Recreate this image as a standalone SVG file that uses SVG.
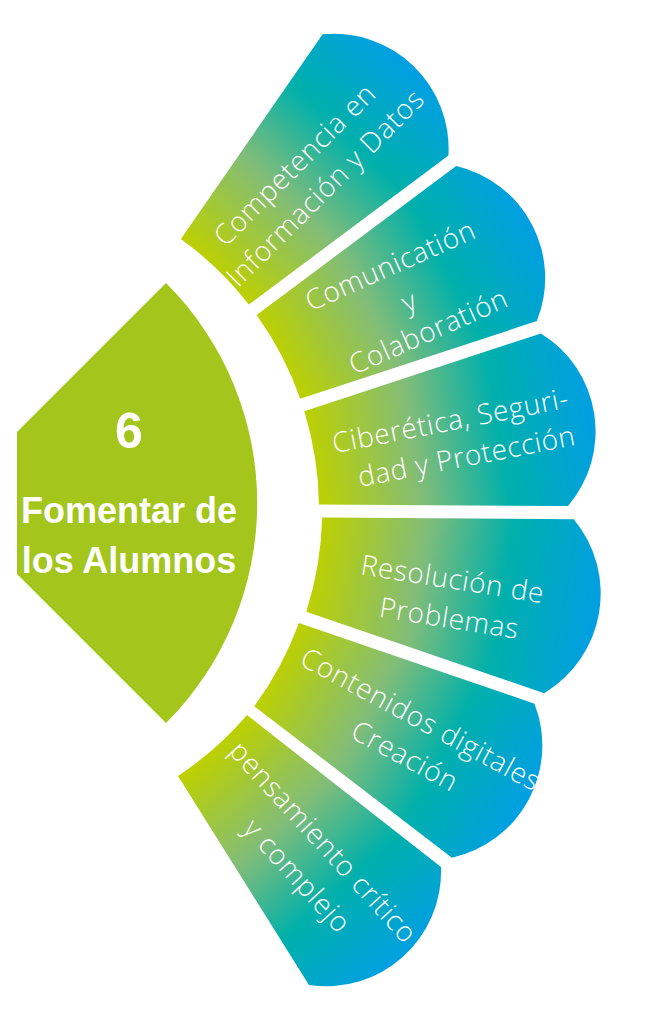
<svg xmlns="http://www.w3.org/2000/svg" width="648" height="1024" viewBox="0 0 648 1024">
<style>
.pt{font-family:"Open Sans","Liberation Sans",sans-serif;font-weight:300;font-size:28px;letter-spacing:0.7px;fill:#fff;text-anchor:middle}
.ct{font-family:"Liberation Sans",Arial,sans-serif;font-weight:700;fill:#fff;text-anchor:middle}
</style>
<defs>
<linearGradient id="g" x1="0" y1="0" x2="1" y2="0">
<stop offset="0" stop-color="#bdd000"/>
<stop offset="0.36" stop-color="#82bd78"/>
<stop offset="0.66" stop-color="#00b0ab"/>
<stop offset="1" stop-color="#009fe3"/>
</linearGradient>
<linearGradient id="g6" href="#g" gradientUnits="userSpaceOnUse" x1="210.8" y1="750" x2="405.9" y2="959.1"/>
<path id="petal" d="M329.63,-47.24 L575.4,-87.39 A115,115 0 0 1 575.4,87.39 L329.63,47.24 A333,333 0 0 0 329.63,-47.24 Z"/>
</defs>
<rect width="648" height="1024" fill="#fff"/>
<g id="center">
<path d="M17,432 L166,283 A311,311 0 0 1 166,723 L17,574 Z" fill="#a3c51c"/>
<text class="ct" x="129" y="448" font-size="50">6</text>
<text class="ct" x="129" y="523" font-size="36">Fomentar de</text>
<text class="ct" x="129" y="573" font-size="36">los Alumnos</text>
</g>
<g id="petal-1">
<use href="#petal" fill="url(#g)" transform="translate(-14,509) rotate(-46.025)"/>
<text class="pt" transform="translate(311.2,177.5) rotate(-45)"><tspan x="-2.6" y="-11">Competencia en</tspan><tspan x="2.7" y="27">Información y Datos</tspan></text>
</g>
<g id="petal-2">
<use href="#petal" fill="url(#g)" transform="translate(-14,509) rotate(-27.475)"/>
<text class="pt" transform="translate(410,301) rotate(-24)"><tspan x="-3.5" y="-30.8">Comunicatión</tspan><tspan x="-0.8" y="9.8">y</tspan><tspan x="4.4" y="45">Colaboratión</tspan></text>
</g>
<g id="petal-3">
<use href="#petal" fill="url(#g)" transform="translate(-14,509) rotate(-8.925)"/>
<text class="pt" transform="translate(459,440) rotate(-11)"><tspan x="-4.8" y="-10.8">Ciberética, Seguri-</tspan><tspan x="4.4" y="27.2">dad y Protección</tspan></text>
</g>
<g id="petal-4">
<use href="#petal" fill="url(#g)" transform="translate(-14,509) rotate(9.625) scale(1.01)"/>
<text class="pt" transform="translate(450.8,600.4) rotate(9)"><tspan x="-1.4" y="-11.6">Resolución de</tspan><tspan x="1.3" y="27.6">Problemas</tspan></text>
</g>
<g id="petal-5">
<use href="#petal" fill="url(#g)" transform="translate(-14,509) rotate(28.175)"/>
<text class="pt" transform="translate(412.1,739.2) rotate(28.5)"><tspan x="-1.8" y="-11.9">Contenidos digitales</tspan><tspan x="1.8" y="27.9">Creación</tspan></text>
</g>
<g id="petal-6">
<path d="M247,715 L441,867 A115,115 0 0 1 309,985 L178,776 A333,333 0 0 0 247,715 Z" fill="url(#g6)"/>
<text class="pt" transform="translate(309,860) rotate(47.5)"><tspan x="-3.6" y="-13">pensamiento crítico</tspan><tspan x="3.6" y="29">y complejo</tspan></text>
</g>
</svg>
